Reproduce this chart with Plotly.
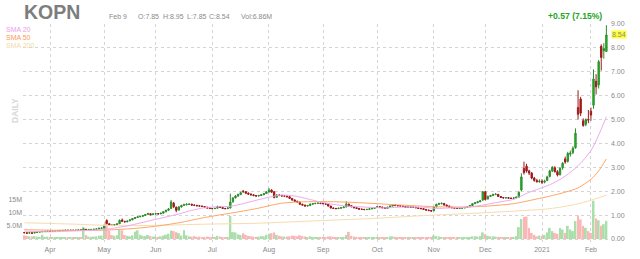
import pandas as pd
import plotly.graph_objects as go

# ---------------- data ----------------
HOLIDAYS = ["2020-04-10", "2020-05-25", "2020-07-03", "2020-09-07",
            "2020-11-26", "2020-12-25", "2021-01-01", "2021-01-18"]
DATES = [d.strftime("%Y-%m-%d") for d in
         pd.bdate_range("2020-03-18", "2021-02-09", freq="C", holidays=HOLIDAYS)]

OPEN = [
 0.27,0.26,0.25,0.26,0.25,0.27,0.29,0.30,0.31,0.32,
 0.33,0.32,0.33,0.33,0.35,0.36,0.36,0.37,0.36,0.37,0.36,0.37,0.38,0.37,0.41,0.39,0.40,0.40,0.41,0.42,0.45,
 0.46,0.78,0.64,0.58,0.57,0.60,0.64,0.80,0.74,0.72,0.76,0.80,0.86,0.90,0.93,0.95,0.98,1.03,1.06,1.02,
 1.05,1.06,1.05,1.08,1.14,1.20,1.28,1.50,1.33,1.21,1.34,1.41,1.43,1.45,1.46,1.42,1.41,1.39,1.38,1.36,1.33,1.30,
 1.28,1.27,1.29,1.36,1.32,1.28,1.27,1.30,1.56,1.72,1.80,1.86,2.00,1.98,1.92,1.88,1.85,1.82,1.80,1.82,1.85,1.90,
 1.97,2.05,1.98,1.75,1.84,1.82,1.80,1.80,1.77,1.70,1.63,1.58,1.55,1.45,1.42,1.38,1.40,1.46,1.48,1.49,1.50,
 1.49,1.48,1.46,1.38,1.30,1.28,1.27,1.29,1.31,1.34,1.46,1.40,1.35,1.31,1.28,1.25,1.24,1.23,1.24,1.26,1.28,
 1.32,1.35,1.34,1.31,1.28,1.33,1.38,1.42,1.40,1.39,1.38,1.36,1.33,1.34,1.33,1.33,1.31,1.28,1.27,1.24,1.21,1.19,
 1.18,1.34,1.45,1.48,1.49,1.42,1.38,1.33,1.31,1.29,1.28,1.29,1.30,1.32,1.35,1.40,1.48,1.52,1.56,1.63,
 1.98,1.68,1.78,1.82,1.86,1.87,1.78,1.74,1.72,1.73,1.71,1.70,1.72,1.75,2.05,2.95,3.05,2.85,2.76,2.55,2.45,2.40,
 2.42,2.38,2.45,2.62,2.85,2.98,2.82,2.70,2.98,3.35,3.25,3.55,3.62,3.82,5.50,5.86,4.95,4.80,5.00,
 5.35,5.60,6.60,6.45,8.07,7.88,7.85]
HIGH = [
 0.29,0.27,0.27,0.27,0.28,0.30,0.31,0.33,0.33,0.34,
 0.34,0.33,0.34,0.36,0.37,0.37,0.38,0.38,0.38,0.38,0.38,0.39,0.39,0.44,0.42,0.41,0.42,0.42,0.43,0.46,0.47,
 0.58,0.82,0.66,0.60,0.62,0.66,0.82,0.86,0.76,0.77,0.82,0.88,0.92,0.95,0.97,1.00,1.05,1.10,1.08,1.07,
 1.08,1.09,1.10,1.17,1.23,1.30,1.63,1.55,1.36,1.38,1.44,1.48,1.50,1.49,1.47,1.45,1.43,1.42,1.40,1.38,1.35,1.32,
 1.30,1.31,1.40,1.37,1.33,1.30,1.32,1.90,1.75,1.84,1.90,1.98,2.05,2.00,1.95,1.91,1.88,1.84,1.85,1.88,1.93,2.00,
 2.13,2.08,2.00,1.87,1.88,1.86,1.84,1.82,1.78,1.72,1.66,1.60,1.56,1.48,1.44,1.43,1.49,1.50,1.52,1.53,1.52,
 1.52,1.50,1.47,1.39,1.32,1.30,1.31,1.33,1.36,1.58,1.48,1.42,1.36,1.32,1.30,1.27,1.26,1.26,1.28,1.30,1.34,
 1.37,1.37,1.35,1.32,1.35,1.40,1.45,1.44,1.42,1.41,1.40,1.37,1.36,1.36,1.35,1.34,1.32,1.30,1.28,1.25,1.23,1.21,
 1.37,1.48,1.52,1.53,1.50,1.44,1.40,1.35,1.33,1.31,1.31,1.32,1.34,1.37,1.42,1.50,1.55,1.58,1.62,2.00,
 2.02,1.82,1.85,1.90,1.92,1.88,1.80,1.76,1.75,1.74,1.73,1.74,1.78,2.00,2.75,3.24,3.15,2.90,2.80,2.60,2.52,2.50,
 2.50,2.48,2.65,2.90,3.05,3.05,2.88,3.00,3.22,3.45,3.65,3.70,3.88,4.63,6.23,5.95,5.05,5.05,5.40,
 5.50,7.10,6.90,7.50,8.15,8.20,8.95]
LOW = [
 0.25,0.23,0.24,0.23,0.25,0.27,0.28,0.29,0.30,0.31,
 0.31,0.31,0.32,0.33,0.34,0.35,0.35,0.35,0.36,0.35,0.36,0.36,0.36,0.37,0.38,0.38,0.39,0.39,0.40,0.41,0.43,
 0.45,0.62,0.56,0.54,0.56,0.59,0.63,0.72,0.69,0.70,0.75,0.79,0.84,0.88,0.91,0.93,0.97,1.01,0.99,1.00,
 1.02,1.03,1.04,1.07,1.12,1.18,1.27,1.30,1.12,1.20,1.32,1.38,1.41,1.42,1.39,1.39,1.37,1.36,1.34,1.31,1.28,1.26,
 1.25,1.26,1.28,1.30,1.26,1.25,1.26,1.28,1.52,1.70,1.77,1.84,1.94,1.88,1.85,1.82,1.79,1.77,1.78,1.80,1.84,1.89,
 1.95,1.94,1.70,1.72,1.79,1.78,1.77,1.74,1.68,1.61,1.56,1.52,1.43,1.40,1.36,1.37,1.39,1.44,1.46,1.47,1.46,
 1.45,1.43,1.36,1.28,1.26,1.25,1.26,1.28,1.30,1.33,1.34,1.33,1.29,1.26,1.23,1.22,1.21,1.22,1.23,1.25,1.27,
 1.31,1.32,1.29,1.26,1.27,1.32,1.37,1.38,1.37,1.36,1.34,1.31,1.32,1.31,1.31,1.29,1.26,1.25,1.22,1.19,1.17,1.15,
 1.17,1.33,1.43,1.45,1.40,1.36,1.32,1.29,1.27,1.26,1.27,1.28,1.29,1.31,1.34,1.39,1.46,1.50,1.54,1.60,
 1.62,1.65,1.76,1.80,1.84,1.76,1.72,1.70,1.70,1.69,1.68,1.69,1.71,1.73,2.00,2.70,2.78,2.68,2.50,2.40,2.36,2.35,
 2.30,2.33,2.42,2.58,2.80,2.78,2.62,2.65,2.90,3.15,3.20,3.45,3.55,3.78,5.00,5.15,4.70,4.72,4.85,
 4.95,5.45,6.05,6.30,7.05,7.55,7.85]
CLOSE = [
 0.26,0.24,0.26,0.24,0.27,0.29,0.30,0.32,0.32,0.33,
 0.32,0.33,0.33,0.35,0.36,0.36,0.37,0.36,0.37,0.36,0.37,0.38,0.37,0.41,0.39,0.40,0.40,0.41,0.42,0.45,0.46,
 0.55,0.65,0.58,0.57,0.60,0.63,0.78,0.74,0.72,0.75,0.80,0.86,0.90,0.93,0.95,0.98,1.03,1.06,1.02,1.05,
 1.06,1.05,1.08,1.14,1.20,1.26,1.55,1.35,1.20,1.34,1.40,1.43,1.45,1.46,1.42,1.41,1.39,1.38,1.36,1.33,1.30,1.28,
 1.27,1.28,1.36,1.32,1.28,1.27,1.30,1.55,1.72,1.80,1.86,1.94,1.98,1.92,1.88,1.85,1.82,1.80,1.82,1.85,1.90,1.97,
 2.05,1.96,1.74,1.84,1.82,1.80,1.80,1.77,1.70,1.63,1.58,1.55,1.45,1.42,1.38,1.40,1.46,1.48,1.49,1.50,1.49,
 1.48,1.46,1.38,1.30,1.28,1.27,1.29,1.31,1.34,1.46,1.40,1.35,1.31,1.28,1.25,1.24,1.23,1.24,1.26,1.28,1.32,
 1.35,1.34,1.31,1.28,1.33,1.38,1.42,1.40,1.39,1.38,1.36,1.33,1.34,1.33,1.33,1.31,1.28,1.27,1.24,1.21,1.19,1.17,
 1.33,1.45,1.48,1.49,1.42,1.38,1.33,1.31,1.29,1.28,1.29,1.30,1.32,1.35,1.40,1.48,1.52,1.56,1.60,1.98,
 1.65,1.78,1.82,1.86,1.87,1.78,1.74,1.72,1.73,1.71,1.70,1.72,1.75,1.95,2.60,2.78,2.85,2.76,2.55,2.45,2.40,2.42,
 2.38,2.42,2.60,2.85,3.00,2.82,2.68,2.96,3.17,3.22,3.58,3.60,3.80,4.43,5.22,5.27,4.75,5.00,4.98,
 5.19,6.70,6.37,7.42,7.60,7.97,8.54]
VOLUME_M = [
 1.4,1.2,1.0,0.9,1.1,0.9,0.8,1.6,0.8,0.9,
 0.7,0.6,0.6,0.8,0.7,0.6,0.6,0.5,0.6,0.6,0.7,0.7,0.6,4.6,1.5,0.9,0.8,0.9,1.0,1.2,1.3,
 5.5,6.5,3.2,1.5,1.2,1.4,3.4,3.3,1.5,1.2,1.0,1.4,2.8,3.3,1.6,1.2,1.1,1.5,1.1,0.9,
 0.9,0.8,1.0,1.3,1.6,2.0,3.2,3.0,2.6,2.2,1.3,3.3,1.4,1.0,0.9,1.1,0.8,0.9,0.8,0.7,0.9,0.8,
 0.7,0.8,1.2,0.9,0.7,0.6,0.8,8.8,2.6,2.5,1.8,1.5,2.2,1.6,1.2,1.0,0.9,0.8,0.9,1.1,1.0,1.6,
 2.0,2.2,2.5,1.6,1.2,1.0,0.9,0.9,1.0,1.3,1.2,1.0,1.4,1.1,0.9,0.8,1.0,0.8,0.7,0.8,0.7,
 0.7,0.6,0.9,1.0,0.8,0.7,0.6,0.6,0.7,1.5,2.7,1.2,0.9,0.7,0.7,0.6,0.6,0.5,0.6,0.6,0.7,
 0.7,0.6,0.6,0.7,0.8,0.9,1.0,0.8,0.6,0.6,0.6,0.7,0.6,0.5,0.5,0.6,0.6,0.5,0.6,0.6,0.7,0.8,
 1.3,1.1,0.9,0.7,0.7,0.6,0.6,0.5,0.5,0.5,0.6,0.5,0.6,0.7,0.8,1.0,1.0,0.9,1.1,2.5,
 1.8,1.2,1.0,1.0,0.9,0.8,0.7,0.6,0.6,0.6,0.6,0.8,1.1,4.5,7.6,8.3,8.5,4.2,2.3,1.6,1.0,1.3,
 1.2,1.5,2.5,4.2,3.0,2.3,2.0,4.2,3.6,2.3,5.0,3.6,3.0,6.8,8.9,7.4,5.0,4.2,3.0,
 2.3,14.5,7.8,7.1,5.0,5.6,6.86]

# moving averages at sample days (index into DATES)
SMA20_IDX = [0,5,10,15,20,25,30,35,40,45,50,55,60,65,70,75,80,85,90,95,100,105,110,115,120,125,130,135,140,145,150,155,160,165,170,175,180,185,190,195,200,205,210,215,220,223,226]
SMA20_VAL = [0.33,0.31,0.30,0.32,0.34,0.36,0.39,0.46,0.55,0.67,0.80,0.92,1.05,1.20,1.31,1.35,1.37,1.48,1.62,1.75,1.84,1.80,1.68,1.55,1.45,1.38,1.35,1.32,1.30,1.33,1.34,1.33,1.28,1.30,1.32,1.37,1.46,1.56,1.66,1.91,2.11,2.32,2.63,3.07,3.70,4.35,5.12]
SMA50_IDX = [0,10,20,30,40,50,60,70,80,90,100,110,120,130,140,150,160,170,180,190,200,205,210,215,220,223,226]
SMA50_VAL = [0.39,0.37,0.36,0.37,0.42,0.52,0.68,0.90,1.08,1.27,1.50,1.56,1.56,1.52,1.46,1.40,1.35,1.34,1.38,1.48,1.70,1.82,1.96,2.14,2.50,2.85,3.35]
SMA200_IDX = [0,20,35,50,70,90,115,137,155,175,192,204,214,220,226]
SMA200_VAL = [0.68,0.62,0.56,0.57,0.62,0.66,0.77,0.87,0.98,1.08,1.18,1.27,1.45,1.62,1.84]

TICK_DATES = ["2020-04-01","2020-05-01","2020-06-01","2020-07-01","2020-08-03","2020-09-01",
              "2020-10-01","2020-11-02","2020-12-01","2021-01-04","2021-02-01"]
TICK_LABELS = ["Apr","May","Jun","Jul","Aug","Sep","Oct","Nov","Dec","2021","Feb"]
PRICE_TICKS = [0,1,2,3,4,5,6,7,8,9]
VOL_TICKS = [5e6, 10e6, 15e6]
VOL_TICK_LABELS = ["5.0M", "10M", "15M"]

assert len(DATES) == len(OPEN) == len(HIGH) == len(LOW) == len(CLOSE) == len(VOLUME_M), \
    (len(DATES), len(OPEN), len(HIGH), len(LOW), len(CLOSE), len(VOLUME_M))

# ---------------- figure ----------------
W, H = 640, 259
L, R, T, B = 23, 610, 24, 242
FONT = "Liberation Sans, Arial, sans-serif"
GRAY = "#8a8a8a"

def px(x):
    return (x - L) / (R - L)

def py(y):
    return (B - y) / (B - T)

vol = [v * 1e6 for v in VOLUME_M]
vol_colors = ["#aadfaa" if c >= o else "#fbb6b6" for o, c in zip(OPEN, CLOSE)]

fig = go.Figure()
fig.add_trace(go.Bar(x=DATES, y=vol, marker=dict(color=vol_colors, line=dict(width=0)),
                     yaxis="y", hoverinfo="skip"))
for idx, val, col in [(SMA200_IDX, SMA200_VAL, "#f6dcae"),
                      (SMA50_IDX, SMA50_VAL, "#ffa766"),
                      (SMA20_IDX, SMA20_VAL, "#eeaaee")]:
    fig.add_trace(go.Scatter(x=[DATES[i] for i in idx], y=val, mode="lines",
                             line=dict(color=col, width=1, shape="spline", smoothing=0.8),
                             yaxis="y2", hoverinfo="skip"))
fig.add_trace(go.Candlestick(
    x=DATES, open=OPEN, high=HIGH, low=LOW, close=CLOSE, yaxis="y2",
    increasing=dict(line=dict(color="#2f8a2f", width=1), fillcolor="#00d000"),
    decreasing=dict(line=dict(color="#9a1c1c", width=1), fillcolor="#d60000"),
    whiskerwidth=0, hoverinfo="skip"))

n = len(DATES)
fig.update_layout(
    width=W, height=H, showlegend=False,
    margin=dict(l=L, r=W - R, t=T, b=H - B, pad=0, autoexpand=False),
    paper_bgcolor="white", plot_bgcolor="white",
    font=dict(family=FONT, size=7, color=GRAY),
    bargap=0.25, boxgap=0.25,
    xaxis=dict(type="category", range=[-0.5, n + 0.4], tickvals=TICK_DATES, ticktext=TICK_LABELS,
               showgrid=True, gridcolor="#d4d4d4", griddash="dot", gridwidth=1, automargin=False,
               ticks="", showline=False, zeroline=False, rangeslider=dict(visible=False),
               tickfont=dict(size=7, color=GRAY), ticklabelstandoff=2),
    yaxis=dict(range=[-1.136e6, 81.44e6], tickvals=VOL_TICKS, ticktext=VOL_TICK_LABELS,
               showgrid=False, zeroline=False, showline=False, ticks="", side="left",
               automargin=False, tickfont=dict(size=7, color=GRAY)),
    yaxis2=dict(range=[-0.125, 9.0], overlaying="y", side="right", tickvals=PRICE_TICKS,
                ticktext=[f"{v:.2f}" for v in PRICE_TICKS], automargin=False,
                showgrid=True, gridcolor="#d4d4d4", griddash="dot", gridwidth=1,
                zeroline=False, showline=False, ticks="", tickfont=dict(size=7, color=GRAY)),
)

ann = []
def add(text, x, y, xanchor="left", size=7, color=GRAY, weight="normal", **kw):
    ann.append(dict(text=text, x=px(x), y=py(y), xref="paper", yref="paper",
                    xanchor=xanchor, yanchor="middle", showarrow=False,
                    font=dict(family=FONT, size=size, color=color, weight=weight), **kw))

add("KOPN", 22, 12, size=19.5, color="#7d7d7d", weight="bold")
add("Feb 9", 107, 16)
add("O:7.85", 136, 16)
add("H:8.95", 161, 16)
add("L:7.85", 185, 16)
add("C:8.54", 207, 16)
add("Vol:6.86M", 239, 16)
add("+0.57 (7.15%)", 604, 16, xanchor="right", size=8.6, color="#23a523", weight="bold")
add("SMA 20", 4, 29.5, color="#eaa0ea")
add("SMA 50", 4, 37.5, color="#ff9a55")
add("SMA 200", 4, 45, color="#f3d9a6")
add("DAILY", 15, 111, xanchor="center", size=8.5, color="#d8d8d8", weight="bold", textangle=-90)
ann.append(dict(text="8.54", x=1, y=CLOSE[-1], xref="paper", yref="y2", xanchor="left",
                yanchor="middle", xshift=1, showarrow=False, bgcolor="#ffff33", borderpad=0,
                font=dict(family=FONT, size=7, color=GRAY)))
fig.update_layout(annotations=ann)

fig.write_html("out.html")
